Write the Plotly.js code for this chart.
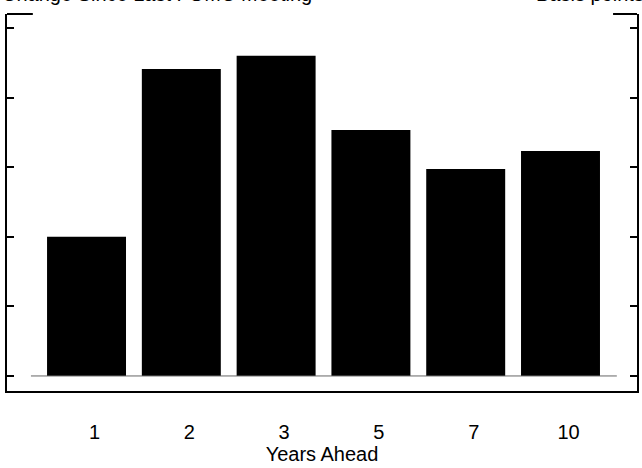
<!DOCTYPE html>
<html>
<head>
<meta charset="utf-8">
<script src="https://cdn.plot.ly/plotly-3.0.1.min.js"></script>
<style>html,body{margin:0;padding:0;background:#fff;}#chart{width:642px;height:468px;}</style>
</head>
<body>
<div id="chart"></div>
<script>
const categories = ["1", "2", "3", "5", "7", "10"];
const values = [10.0, 22.05, 23.0, 17.67, 14.87, 16.16];
const yTicks = [0, 5, 10, 15, 20, 25];
const titleText = "Change Since Last FOMC Meeting";
const unitText = "Basis points";
const xTitle = "Years Ahead";

const font = {family: "Liberation Sans, Arial, sans-serif", size: 20, color: "#000"};

const trace = {
  type: "bar",
  x: categories.map((c, i) => i),
  y: values,
  marker: {color: "#000", line: {width: 0}},
  hoverinfo: "skip"
};

const layout = {
  width: 642, height: 468,
  margin: {l: 7, r: 5, t: 14, b: 77},
  paper_bgcolor: "#fff", plot_bgcolor: "#fff",
  showlegend: false,
  bargap: 0.167,
  font: font,
  xaxis: {
    type: "linear",
    range: [-0.839, 5.807],
    tickvals: categories.map((c, i) => i),
    ticktext: categories,
    ticks: "",
    ticklabelshift: 8,
    ticklabelstandoff: 22,
    showgrid: false, zeroline: false,
    showline: true, linecolor: "#000", linewidth: 2, mirror: false,
    tickfont: font,
    title: {text: xTitle, font: font, standoff: 0}
  },
  yaxis: {
    range: [-1.08, 26.0],
    tickvals: yTicks,
    showticklabels: false,
    ticks: "inside", ticklen: 7, tickwidth: 2, tickcolor: "#000",
    showgrid: false, zeroline: false,
    showline: true, linecolor: "#000", linewidth: 2, mirror: "ticks"
  },
  shapes: [
    {type: "line", xref: "paper", yref: "y", x0: 0.038, x1: 0.968, y0: 0, y1: 0, line: {color: "#666", width: 1}},
    {type: "line", xref: "paper", yref: "paper", x0: 0, x1: 0.041, y0: 1, y1: 1, line: {color: "#000", width: 2}},
    {type: "line", xref: "paper", yref: "paper", x0: 0.962, x1: 1, y0: 1, y1: 1, line: {color: "#000", width: 2}}
  ],
  annotations: [
    {text: titleText, xref: "paper", yref: "paper", x: -0.011, y: 1, xanchor: "left", yanchor: "bottom", yshift: 7, showarrow: false, font: font},
    {text: unitText, xref: "paper", yref: "paper", x: 1.015, y: 1, xanchor: "right", yanchor: "bottom", yshift: 7, showarrow: false, font: font}
  ]
};

Plotly.newPlot("chart", [trace], layout, {staticPlot: true, displayModeBar: false});
</script>
</body>
</html>
